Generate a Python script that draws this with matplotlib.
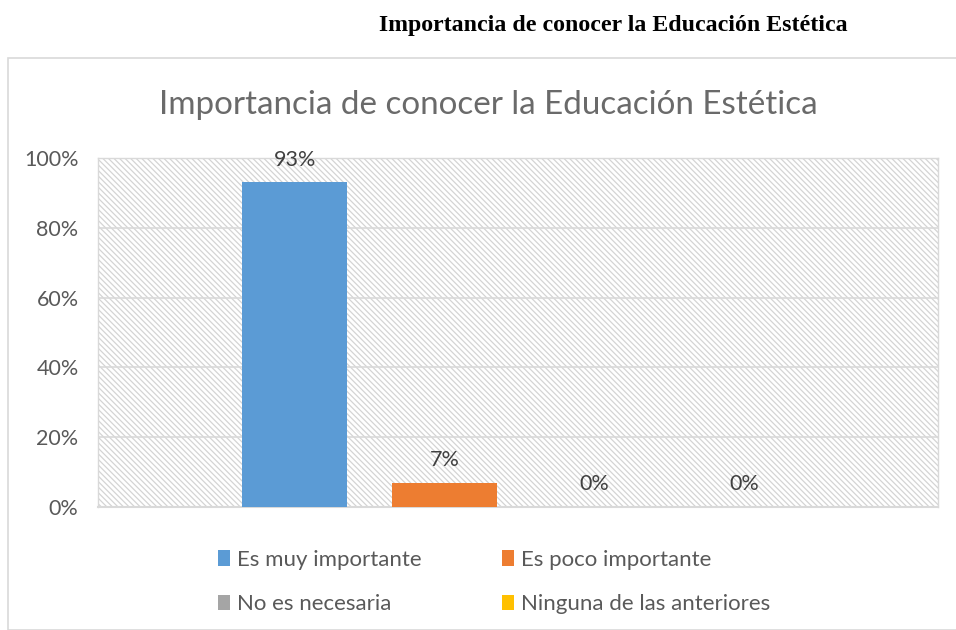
import numpy as np
import matplotlib.pyplot as plt
from matplotlib.patches import Rectangle

# datos
series = ["Es muy importante", "Es poco importante", "No es necesaria", "Ninguna de las anteriores"]
valores = [93, 7, 0, 0]
colores = ["#5b9bd5", "#ed7d31", "#a5a5a5", "#ffc000"]
yticks = [0, 20, 40, 60, 80, 100]

plt.rcParams['font.family'] = ['Lato', 'DejaVu Sans']
plt.rcParams['hatch.color'] = '#d4d4d4'
plt.rcParams['hatch.linewidth'] = 0.9

fig = plt.figure(figsize=(9.56, 6.3), dpi=100)
W, H = 956, 630

# marco exterior del grafico
fig.patches.append(Rectangle((8 / W, 0), 1, (630 - 58) / H, transform=fig.transFigure,
                             fill=False, edgecolor='#d9d9d9', linewidth=1.2))

fig.text(613 / W, 1 - 25 / H, "Importancia de conocer la Educación Estética",
         ha='center', va='center', fontsize=17.2, fontweight='bold',
         family='Liberation Serif')

ax = fig.add_axes([98 / W, (630 - 507) / H, (938 - 98) / W, (507 - 158) / H])
ax.set_xlim(-0.5, 0.5)
ax.set_ylim(0, 100)

# fondo rayado del area de trazado
ax.add_patch(Rectangle((0, 0), 1, 1, transform=ax.transAxes, facecolor='white',
                       hatch='\\' * 6, edgecolor='#d4d4d4', linewidth=0, zorder=0))

paso = 0.1786
ancho = 0.125
barras = []
for i, (s, v, c) in enumerate(zip(series, valores, colores)):
    x = (i - 1.5) * paso + 0.002
    b = ax.bar(x, v, width=ancho, color=c, label=s, zorder=3)
    barras.append(b)
    ax.text(x, v + 3.6, f"{v}%", ha='center', va='bottom', fontsize=15.5, color='#404040')

ax.set_yticks(yticks)
ax.set_yticklabels([f"{t}%" for t in yticks], fontsize=15.5, color='#595959')
ax.set_xticks([])
ax.tick_params(axis='y', length=0, pad=14)
ax.grid(axis='y', color='#d9d9d9', linewidth=1.2, zorder=1)
for lado in ['top', 'right', 'left']:
    ax.spines[lado].set_color('#d9d9d9')
    ax.spines[lado].set_linewidth(1.0)
ax.spines['bottom'].set_color('#d9d9d9')
ax.spines['bottom'].set_linewidth(1.5)

fig.text(488 / W, 1 - 105 / H, "Importancia de conocer la Educación Estética",
         ha='center', va='center', fontsize=23.9, color='#6a6a6a')

# leyenda por filas: se reordena para que ncol=2 llene fila a fila
orden = [0, 2, 1, 3]
fig.legend([barras[i] for i in orden], [series[i] for i in orden],
           loc='center', bbox_to_anchor=(494 / W, 1 - 582 / H), ncol=2, frameon=False,
           fontsize=16, handlelength=0.55, handleheight=0.7, handletextpad=0.3,
           columnspacing=3.6, labelspacing=1.12, labelcolor='#595959')

fig.savefig("out.png", dpi=100)
